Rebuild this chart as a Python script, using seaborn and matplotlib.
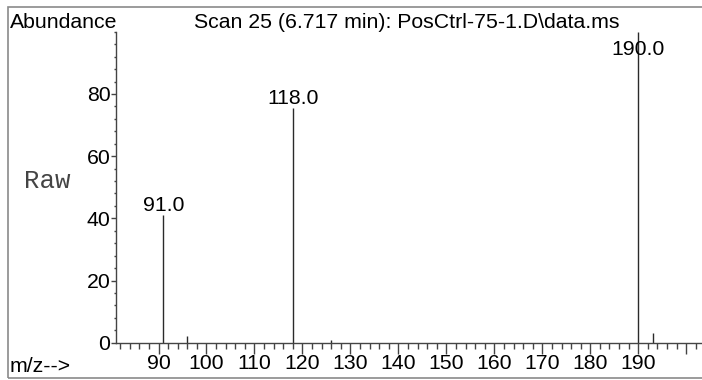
import matplotlib
matplotlib.use("Agg")
import matplotlib.pyplot as plt
import seaborn as sns
import pandas as pd
from matplotlib.patches import Rectangle
from matplotlib.ticker import MultipleLocator

# ---- data ----
mz = [91.0, 96.0, 118.0, 126.0, 190.0, 193.0]
abundance = [41.1, 2.1, 75.5, 0.9, 100.0, 3.0]
labeled_mz = [91.0, 118.0, 190.0]
x_ticks = [90, 100, 110, 120, 130, 140, 150, 160, 170, 180, 190, 200]
x_tick_labels = ["90", "100", "110", "120", "130", "140", "150", "160", "170", "180", "190", ""]
y_ticks = [0, 20, 40, 60, 80]
y_tick_labels = ["0", "20", "40", "60", "80"]
title = "Scan 25 (6.717 min): PosCtrl-75-1.D\\data.ms"
y_title = "Abundance"
x_title = "m/z-->"
side_label = "Raw"

df = pd.DataFrame({"mz": mz, "abundance": abundance})

sns.set_theme(style="ticks")
plt.rcParams['font.family'] = ['Liberation Sans', 'DejaVu Sans']

W, H = 702, 380
fig = plt.figure(figsize=(W / 100, H / 100), dpi=100)
fig.patch.set_facecolor("white")

x0, x1 = 116, 702
y_bot, y_top = 342.7, 31.8
ax = fig.add_axes([x0 / W, (H - y_bot) / H, (x1 - x0) / W, (y_bot - y_top) / H])
ax.set_facecolor("none")

line_col = "#2a2a2a"
ax.vlines(df["mz"], 0, df["abundance"], color=line_col, lw=1.0)

ax.set_xlim(81.14, 203.28)
ax.set_ylim(0, 100)

ax.set_xticks(x_ticks)
ax.set_xticklabels(x_tick_labels)
ax.xaxis.set_minor_locator(MultipleLocator(2))
ax.set_yticks(y_ticks)
ax.set_yticklabels(y_tick_labels)
ax.yaxis.set_minor_locator(MultipleLocator(4))

fs = 15.3
ax.tick_params(axis="x", which="major", direction="out", length=7.9, width=1.0,
               color="#444444", labelsize=fs, pad=0, labelcolor="black")
ax.tick_params(axis="x", which="minor", direction="out", length=4.1, width=1.0,
               color="#444444")
ax.tick_params(axis="y", which="major", direction="out", length=3.6, width=1.0,
               color="#444444", labelsize=fs, pad=0.5, labelcolor="black")
ax.tick_params(axis="y", which="minor", direction="out", length=1.8, width=1.0,
               color="#444444")

sns.despine(ax=ax, top=True, right=True)
for s in ["left", "bottom"]:
    ax.spines[s].set_color("#444444")
    ax.spines[s].set_linewidth(1.0)

# peak labels
for m in labeled_mz:
    h = df.loc[df["mz"] == m, "abundance"].iloc[0]
    ax.text(m, min(h + 1.3, 92.5), f"{m:.1f}", ha="center", va="baseline",
            fontsize=fs, color="black", clip_on=False)

# outer frame
fig.add_artist(Rectangle((8 / W, (H - 378) / H), 1.1, (378 - 7) / H,
                         transform=fig.transFigure, fill=False,
                         edgecolor="#8a8a8a", lw=1.2, clip_on=False))

fig.text(10 / W, (H - 28) / H, y_title, ha="left", va="baseline", fontsize=fs, color="black")
fig.text(406.5 / W, (H - 28) / H, title, ha="center", va="baseline", fontsize=fs, color="black")
fig.text(10 / W, (H - 371.5) / H, x_title, ha="left", va="baseline", fontsize=fs, color="black")
fig.text(24 / W, (H - 188.3) / H, side_label, ha="left", va="baseline", fontsize=18.5,
         color="#444444", family=["Liberation Mono", "DejaVu Sans Mono"])

fig.savefig("out.png", dpi=100, facecolor="white")
